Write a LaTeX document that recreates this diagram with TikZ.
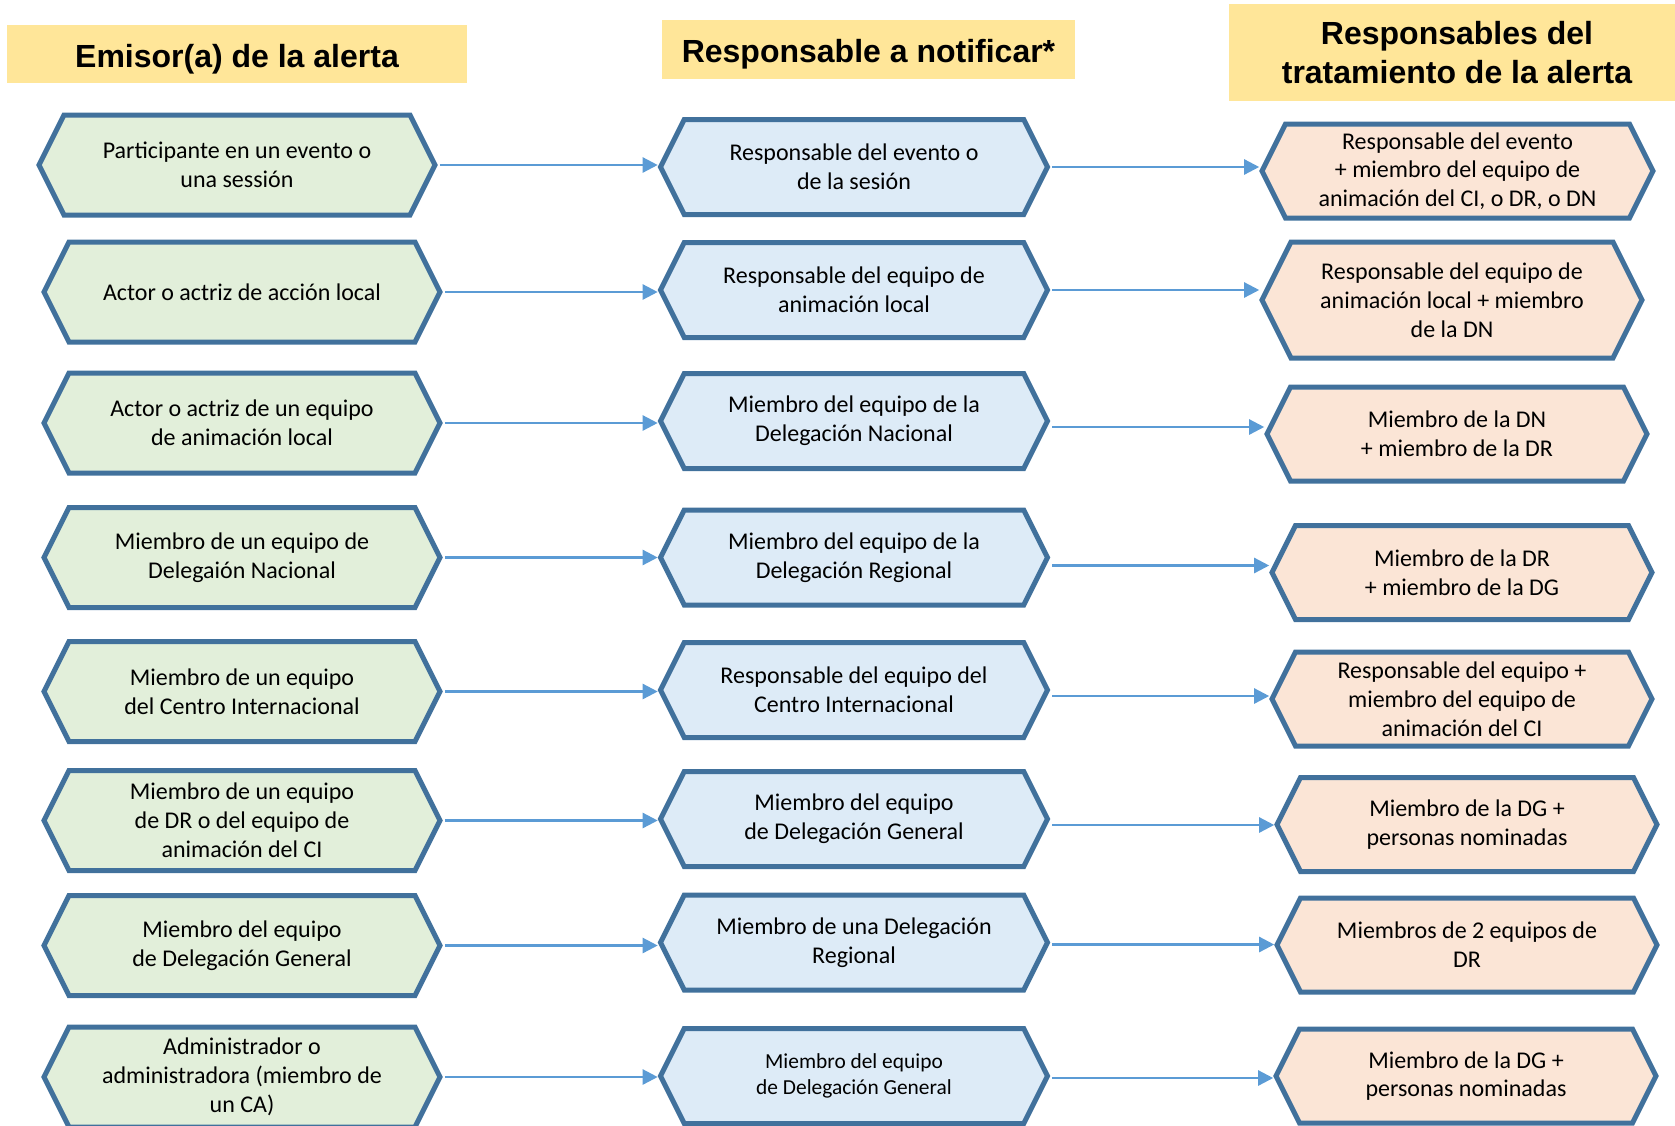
\documentclass[tikz,border=0pt]{standalone}
\usepackage{fontspec}
\setmainfont{Carlito}
\newfontfamily\headfont{Liberation Sans}
\usetikzlibrary{shapes.symbols,arrows.meta}

\definecolor{hexline}{RGB}{65,113,156}
\definecolor{arrowblue}{RGB}{91,155,213}
\definecolor{greenfill}{RGB}{226,239,218}
\definecolor{bluefill}{RGB}{221,235,247}
\definecolor{peachfill}{RGB}{251,229,214}
\definecolor{headfill}{RGB}{255,230,153}

\tikzset{
	hexbox/.style={shape=signal, signal to=west and east, signal pointer angle=126.87,
		draw=hexline, line width=2.5pt, inner sep=0pt, align=center,
		font=\fontsize{12}{14.4}\selectfont},
	emisor/.style={hexbox, fill=greenfill, minimum width=198pt, minimum height=50pt},
	notif/.style={hexbox, fill=bluefill, minimum width=193.5pt, minimum height=47.5pt},
	trat/.style={hexbox, fill=peachfill, minimum width=190pt, minimum height=47pt},
	header/.style={fill=headfill, inner sep=0pt, align=center,
		font=\headfont\bfseries\fontsize{16}{19.5}\selectfont},
	headline/.style={header, text height=16.5pt, text depth=3.4pt},
	arr/.style={-{Triangle[length=7.5pt,width=7.5pt]}, draw=arrowblue, line width=1.2pt, shorten <=1pt}
}

\begin{document}
\begin{tikzpicture}[x=0.5pt,y=-0.5pt]
	\useasboundingbox (0,0) rectangle (1675,1125);

	\node[headline, minimum width=230pt, minimum height=29pt]   (h1) at (237,54)     {Emisor(a) de la alerta};
	\node[headline, minimum width=206.5pt, minimum height=29.5pt] (h2) at (868.5,49.5) {Responsable a notificar*};
	\node[header, minimum width=228pt, minimum height=48.5pt]   (h3) at (1457,52.5)  {Responsables del\\tratamiento de la alerta};

	\node[emisor] (e1) at (237,165)   {Participante en un evento o\\una sessión};
	\node[emisor] (e2) at (242,292)   {Actor o actriz de acción local};
	\node[emisor] (e3) at (242,423)   {Actor o actriz de un equipo\\de animación local};
	\node[emisor] (e4) at (242,557.5) {Miembro de un equipo de\\Delegaión Nacional};
	\node[emisor] (e5) at (242,691.5) {Miembro de un equipo\\del Centro Internacional};
	\node[emisor] (e6) at (242,820.5) {Miembro de un equipo\\de DR o del equipo de\\animación del CI};
	\node[emisor] (e7) at (242,945.5) {Miembro del equipo\\de Delegación General};
	\node[emisor] (e8) at (242,1077)  {Administrador o\\administradora (miembro de\\un CA)};

	\node[notif] (n1) at (854,167)   {Responsable del evento o\\de la sesión};
	\node[notif] (n2) at (854,290)   {Responsable del equipo de\\animación local};
	\node[notif] (n3) at (854,421)   {Miembro del equipo de la\\Delegación Nacional};
	\node[notif] (n4) at (854,557.5) {Miembro del equipo de la\\Delegación Regional};
	\node[notif] (n5) at (854,690)   {Responsable del equipo del\\Centro Internacional};
	\node[notif] (n6) at (854,819)   {Miembro del equipo\\de Delegación General};
	\node[notif] (n7) at (854,942.5) {Miembro de una Delegación\\Regional};
	\node[notif, font=\fontsize{10.7}{12.8}\selectfont] (n8) at (854,1076) {Miembro del equipo\\de Delegación General};

	\node[trat, minimum width=195.5pt] (t1) at (1457.5,171) {Responsable del evento\\+ miembro del equipo de\\animación del CI, o DR, o DN};
	\node[trat, minimum height=58pt]   (t2) at (1452,300)   {Responsable del equipo de\\animación local + miembro\\de la DN};
	\node[trat] (t3) at (1457,434)   {Miembro de la DN\\+ miembro de la DR};
	\node[trat] (t4) at (1462,572.5) {Miembro de la DR\\+ miembro de la DG};
	\node[trat] (t5) at (1462,699)   {Responsable del equipo +\\miembro del equipo de\\animación del CI};
	\node[trat] (t6) at (1467,824.5) {Miembro de la DG +\\personas nominadas};
	\node[trat] (t7) at (1467,945)   {Miembros de 2 equipos de\\DR};
	\node[trat] (t8) at (1466,1076)  {Miembro de la DG +\\personas nominadas};

	\foreach \i/\dy in {1/0,2/0,3/3,4/4,5/3,6/3,7/1,8/1} {
		\path (e\i.east) edge[arr] (e\i.east -| n\i.west);
		\path ([yshift=-\dy pt]n\i.east) edge[arr] ([yshift=-\dy pt]n\i.east -| t\i.west);
	}
\end{tikzpicture}
\end{document}
